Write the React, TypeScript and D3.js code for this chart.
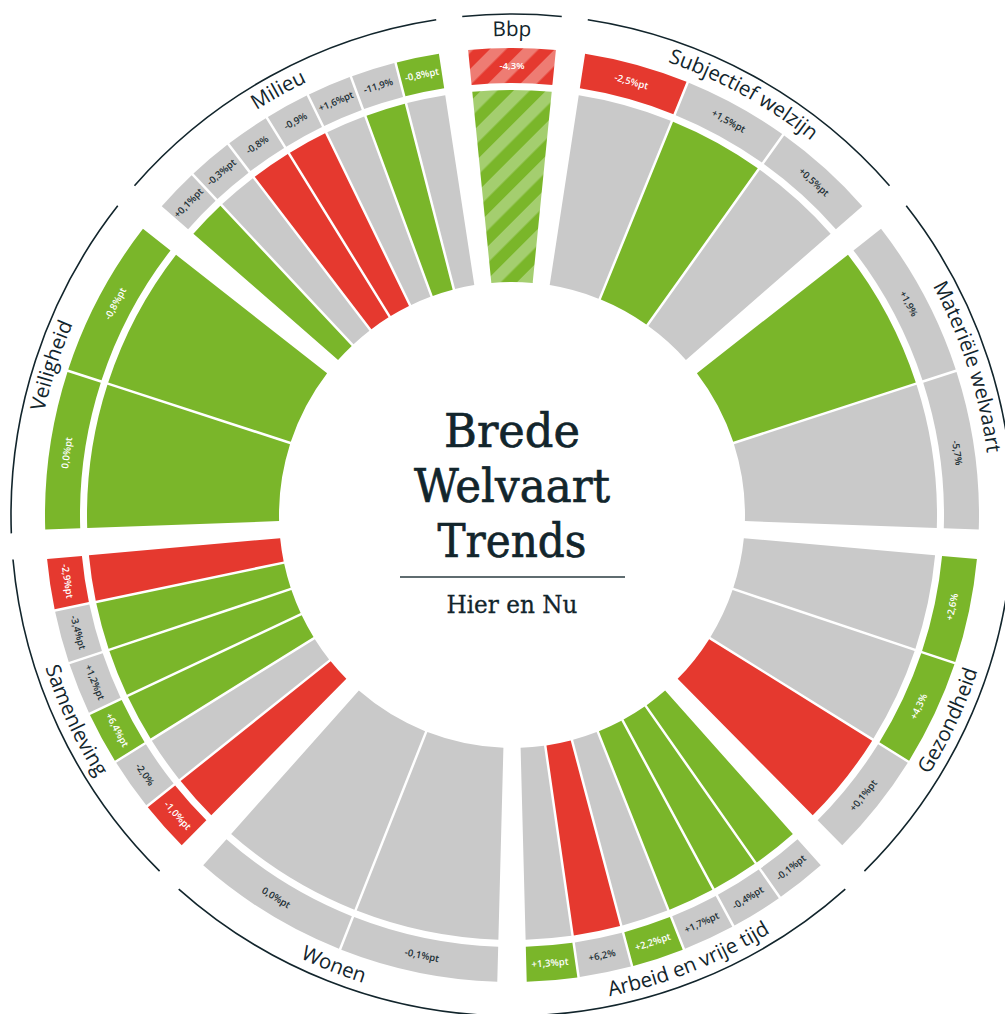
import React from "react";
import * as d3 from "d3";

// ---------- data ----------
const groupNames = [
  "Bbp",
  "Subjectief welzijn",
  "Materiële welvaart",
  "Gezondheid",
  "Arbeid en vrije tijd",
  "Wonen",
  "Samenleving",
  "Veiligheid",
  "Milieu",
];
const groupBarCounts = [1, 3, 2, 3, 6, 2, 6, 2, 7];

// trend of each bar (inner wedge), clockwise from the top
const barTrend = [
  "up",
  "flat", "up", "flat",
  "up", "flat",
  "flat", "flat", "down",
  "up", "up", "up", "flat", "down", "flat",
  "flat", "flat",
  "down", "flat", "up", "up", "up", "down",
  "up", "up",
  "up", "flat", "down", "down", "flat", "up", "flat",
];

// outer change boxes, clockwise from the top
const changeLabels = [
  "-4,3%",
  "-2,5%pt", "+1,5%pt", "+0,5%pt",
  "+1,9%", "-5,7%",
  "+2,6%", "+4,3%", "+0,1%pt",
  "-0,1%pt", "-0,4%pt", "+1,7%pt", "+2,2%pt", "+6,2%", "+1,3%pt",
  "-0,1%pt", "0,0%pt",
  "-1,0%pt", "-2,0%", "+6,4%pt", "+1,2%pt", "-3,4%pt", "-2,9%pt",
  "0,0%pt", "-0,8%pt",
  "+0,1%pt", "-0,3%pt", "-0,8%", "-0,9%", "+1,6%pt", "-11,9%", "-0,8%pt",
];
const changeTrend = [
  "down",
  "down", "flat", "flat",
  "flat", "flat",
  "up", "up", "flat",
  "flat", "flat", "flat", "up", "flat", "up",
  "flat", "flat",
  "down", "flat", "up", "flat", "flat", "down",
  "up", "up",
  "flat", "flat", "flat", "flat", "flat", "flat", "up",
];

const titleLines = ["Brede", "Welvaart", "Trends"];
const subtitle = "Hier en Nu";

// ---------- styling ----------
const COLORS: Record<string, string> = {
  up: "#7ab62a",
  down: "#e5392f",
  flat: "#c9c9c9",
};
const STRIPE: Record<string, string> = {
  up: "#a4ce6f",
  down: "#ee7c73",
  flat: "#dddddd",
};
const DARK = "#12252c";

const W = 1005;
const H = 1014;
const CX = 512;
const CY = 515;
const R_IN = 233;
const R_BAR = 425;
const R_LAB0 = 432;
const R_LAB1 = 467;
const R_TXT = 479;
const R_TXT_FLIP = 491;
const R_LINE = 501;
const GROUP_INSET = 2.5;
const BAR_INSET = 1.25;

const deg = d3.scaleLinear().domain([0, 360]).range([0, 2 * Math.PI]);

const FIRST_SPAN = 11.4;
const GAP = 3.0;
const OTHER_SPAN = (360 - FIRST_SPAN - GAP * groupNames.length) / (groupNames.length - 1);

type Bar = {
  a0: number;
  a1: number;
  d0: number;
  d1: number;
  trend: string;
  label: string;
  ltrend: string;
  group: number;
};

function layout() {
  const groups: { name: string; a0: number; a1: number; flip: boolean }[] = [];
  const bars: Bar[] = [];
  let start = -FIRST_SPAN / 2;
  let k = 0;
  groupNames.forEach((name, gi) => {
    const span = gi === 0 ? FIRST_SPAN : OTHER_SPAN;
    const g0 = start;
    const g1 = start + span;
    const mid = (g0 + g1) / 2;
    groups.push({ name, a0: deg(g0), a1: deg(g1), flip: mid > 90 && mid < 270 });
    const n = groupBarCounts[gi];
    const band = d3.scaleLinear().domain([0, n]).range([g0, g1]);
    for (let i = 0; i < n; i++) {
      bars.push({
        a0: deg(band(i)),
        a1: deg(band(i + 1)),
        d0: i === 0 ? GROUP_INSET : BAR_INSET,
        d1: i === n - 1 ? GROUP_INSET : BAR_INSET,
        trend: barTrend[k],
        label: changeLabels[k],
        ltrend: changeTrend[k],
        group: gi,
      });
      k++;
    }
    start = g1 + GAP;
  });
  return { groups, bars };
}

function wedge(a0: number, a1: number, r0: number, r1: number, d0: number, d1: number) {
  const o0 = a0 + Math.asin(d0 / r1);
  const o1 = a1 - Math.asin(d1 / r1);
  const i0 = a0 + Math.asin(d0 / r0);
  const i1 = a1 - Math.asin(d1 / r0);
  const p = d3.path();
  p.moveTo(r1 * Math.sin(o0), -r1 * Math.cos(o0));
  p.arc(0, 0, r1, o0 - Math.PI / 2, o1 - Math.PI / 2, false);
  p.lineTo(r0 * Math.sin(i1), -r0 * Math.cos(i1));
  p.arc(0, 0, r0, i1 - Math.PI / 2, i0 - Math.PI / 2, true);
  p.closePath();
  return p.toString();
}

function arcPath(a0: number, a1: number, r: number, reverse: boolean) {
  const p = d3.path();
  if (!reverse) {
    p.moveTo(r * Math.sin(a0), -r * Math.cos(a0));
    p.arc(0, 0, r, a0 - Math.PI / 2, a1 - Math.PI / 2, false);
  } else {
    p.moveTo(r * Math.sin(a1), -r * Math.cos(a1));
    p.arc(0, 0, r, a1 - Math.PI / 2, a0 - Math.PI / 2, true);
  }
  return p.toString();
}

export default function App() {
  const { groups, bars } = layout();
  const rMid = (R_LAB0 + R_LAB1) / 2;
  const labelFont = "'Open Sans', 'Noto Sans', sans-serif";

  return (
    <div style={{ position: "absolute", left: 0, top: 0, width: W, height: H, background: "#fff" }}>
      <svg width={W} height={H} style={{ display: "block" }}>
        <defs>
          {["up", "down"].map((t) => (
            <pattern
              key={t}
              id={`stripe-${t}`}
              patternUnits="userSpaceOnUse"
              width={23}
              height={23}
              patternTransform="rotate(45)"
            >
              <rect width={23} height={23} fill={COLORS[t]} />
              <rect width={11.5} height={23} fill={STRIPE[t]} />
            </pattern>
          ))}
          {groups.map((g, i) => (
            <path
              key={i}
              id={`gl-${i}`}
              d={arcPath(g.a0 - 0.3, g.a1 + 0.3, g.flip ? R_TXT_FLIP : R_TXT, g.flip)}
            />
          ))}
        </defs>
        <g transform={`translate(${CX},${CY})`}>
          {bars.map((b, i) => {
            const striped = b.group === 0;
            return (
              <g key={i}>
                <path
                  d={wedge(b.a0, b.a1, R_IN, R_BAR, b.d0, b.d1)}
                  fill={striped ? `url(#stripe-${b.trend})` : COLORS[b.trend]}
                />
                <path
                  d={wedge(b.a0, b.a1, R_LAB0, R_LAB1, b.d0, b.d1)}
                  fill={striped ? `url(#stripe-${b.ltrend})` : COLORS[b.ltrend]}
                />
              </g>
            );
          })}
          {bars.map((b, i) => {
            const m = (b.a0 + b.a1) / 2;
            const flip = groups[b.group].flip;
            const x = rMid * Math.sin(m);
            const y = -rMid * Math.cos(m);
            const rot = (m * 180) / Math.PI - (flip ? 180 : 0);
            return (
              <text
                key={i}
                transform={`translate(${x},${y}) rotate(${rot})`}
                textAnchor="middle"
                dy="0.35em"
                fontFamily={labelFont}
                fontWeight={600}
                fontSize={9.6}
                fill={b.ltrend === "flat" ? "#1e3036" : "#ffffff"}
              >
                {b.label}
              </text>
            );
          })}
          {groups.map((g, i) => (
            <path
              key={i}
              d={arcPath(g.a0, g.a1, R_LINE, false)}
              fill="none"
              stroke={DARK}
              strokeWidth={1.6}
            />
          ))}
          {groups.map((g, i) => (
            <text
              key={i}
              fontFamily={labelFont}
              fontSize={20.5}
              fill={DARK}
            >
              <textPath href={`#gl-${i}`} startOffset="50%" textAnchor="middle">
                {g.name}
              </textPath>
            </text>
          ))}
        </g>
        <g
          fill={DARK}
          stroke={DARK}
          strokeWidth={0.7}
          fontFamily="'DejaVu Serif', serif"
          textAnchor="middle"
        >
          {titleLines.map((t, i) => (
            <text
              key={t}
              x={CX}
              y={447 + i * 55}
              fontSize={47}
              textLength={[136, 196, 149][i]}
              lengthAdjust="spacingAndGlyphs"
            >
              {t}
            </text>
          ))}
          <line x1={400} x2={625} y1={577} y2={577} stroke="#2a3b40" strokeWidth={1.5} />
          <text
            x={CX}
            y={613}
            fontSize={25}
            strokeWidth={0.3}
            textLength={131}
            lengthAdjust="spacingAndGlyphs"
          >
            {subtitle}
          </text>
        </g>
      </svg>
    </div>
  );
}
